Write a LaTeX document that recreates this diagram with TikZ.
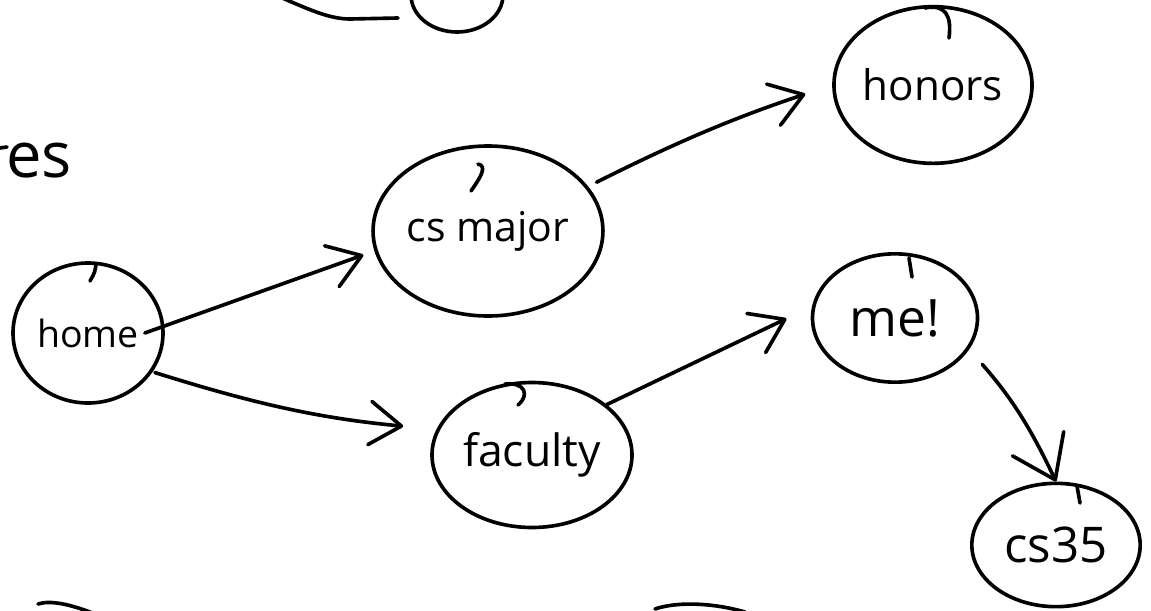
\documentclass[tikz,border=0pt]{standalone}
\usepackage{fontspec}
\setmainfont{Open Sans}
\usetikzlibrary{arrows.meta,shapes.geometric}
\newcommand{\handsize}[1]{\fontsize{#1}{#1}\selectfont}
\tikzset{
  pen/.style={draw=black, line width=3.1pt, line cap=round, line join=round},
  bubble/.style={pen, ellipse, inner sep=0pt, align=center},
  arrow/.style={pen, -{Straight Barb[round, length=9.5mm, width=13mm]}},
  bigarrow/.style={pen, -{Straight Barb[round, length=12mm, width=17mm]}}
}

\begin{document}
\begin{tikzpicture}[x=0.03cm, y=-0.03cm]
\fill[white] (0,0) rectangle (1151,610);
\useasboundingbox (0,0) rectangle (1151,610);
\clip (0,0) rectangle (1151,610);
% bits of the board that run off the edges
\node[anchor=base west, inner sep=0pt, font=\handsize{54pt}] (tail) at (6,177) {es};
\draw[pen] (0,148) -- (7,147);
\draw[pen] (457,-5) ellipse [x radius=1.38cm, y radius=1.11cm];
\draw[pen] (280,-3) .. controls (310,10) and (330,19) .. (350,19) -- (398,18);
\draw[pen] (38,604) .. controls (50,600) and (70,604) .. (95,614);
\draw[pen] (655,609) .. controls (675,602) and (710,602) .. (745,612);
% the page graph
\node[bubble, minimum width=4.5cm, minimum height=4.2cm, font=\handsize{32pt}] (home) at (88,333) {home};
\node[bubble, minimum width=6.3cm, minimum height=5.1cm, font=\handsize{35pt}] (cs) at (488,231) {cs major};
\node[bubble, minimum width=5.6cm, minimum height=4.7cm, font=\handsize{36pt}] (honors) at (933,85) {honors};
\node[bubble, minimum width=6.0cm, minimum height=4.35cm, font=\handsize{38pt}] (faculty) at (532,455) {faculty};
\node[bubble, minimum width=4.95cm, minimum height=3.85cm, font=\handsize{44pt}] (me) at (895,318) {me!};
\node[bubble, minimum width=5.05cm, minimum height=3.7cm, font=\handsize{42pt}] (cs35) at (1056,545) {cs35};
% pen starts on the bubbles
\draw[pen] (90,281) .. controls (95,272) .. (96,264);
\draw[pen] (471,191) .. controls (480,178) and (488,166) .. (478,164);
\draw[pen] (925,8) .. controls (945,4) and (952,15) .. (949,38);
\draw[pen] (505,384) .. controls (525,382) and (530,395) .. (518,405);
\draw[pen] (912,277) .. controls (911,268) .. (909,258);
\draw[pen] (1080,503) .. controls (1079,495) .. (1077,486);
% links
\draw[arrow, shorten >=0.35cm] ([xshift=-0.6cm]home.east) -- (cs.190);
\draw[arrow, shorten <=2pt, shorten >=1cm] (home.-31) to[bend right=6] (faculty.165);
\draw[arrow, shorten <=8pt, shorten >=0.85cm] (cs.24) to[bend left=4] (honors.west);
\draw[arrow, shorten >=0.85cm] (faculty.34) -- (me.172);
\draw[bigarrow, shorten <=0.6cm] (me.-23) to[bend left=8] (cs35.north);
\end{tikzpicture}
\end{document}
